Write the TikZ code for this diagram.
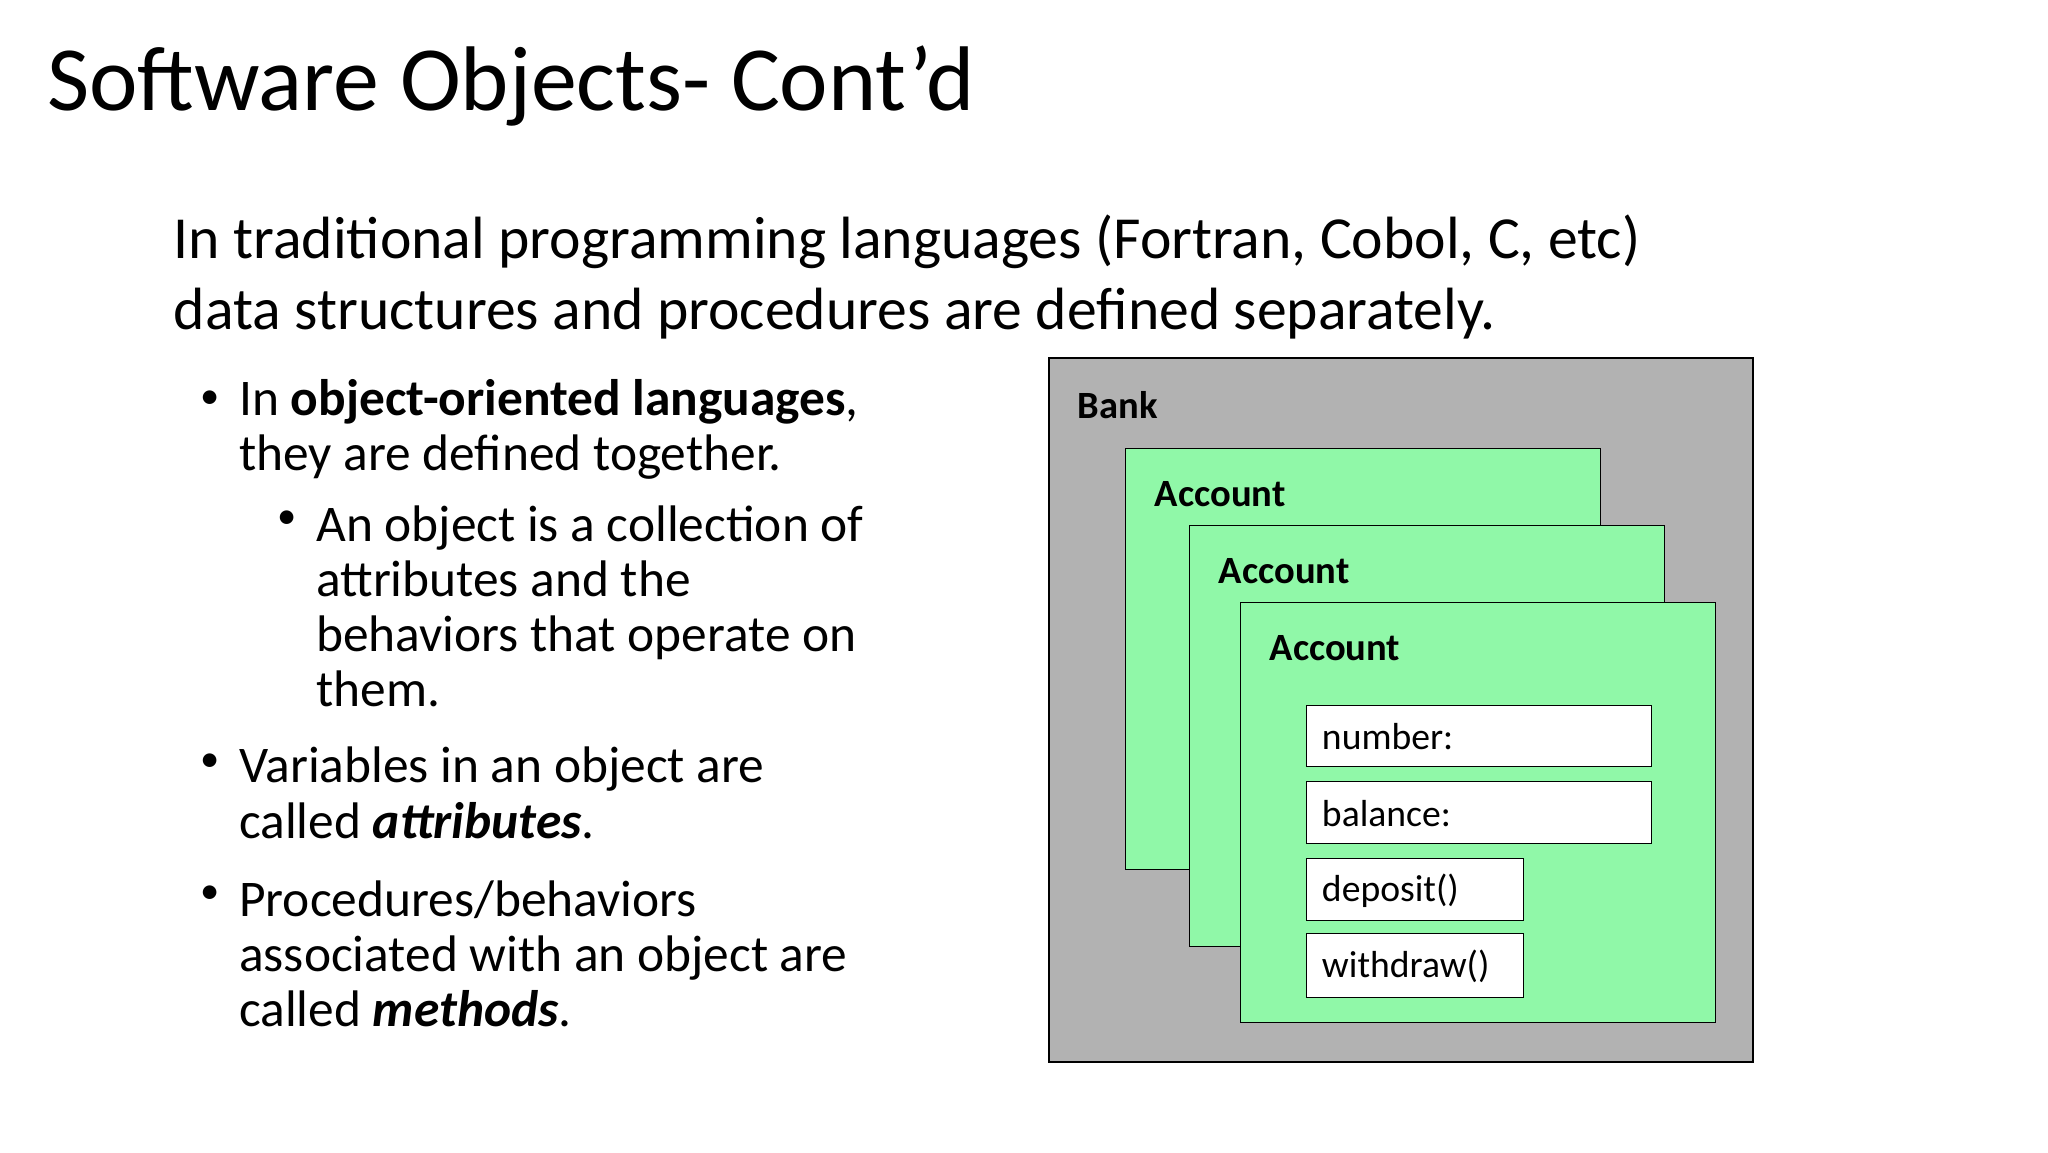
\documentclass[tikz,border=0pt]{standalone}
\usepackage{fontspec}
\setmainfont{Carlito}
\begin{document}
\begin{tikzpicture}[x=0.05cm,y=-0.05cm,
  fld/.style={draw=black,line width=1pt,fill=white},
  acc/.style={draw=black,line width=1pt,fill=accg},
  lbl/.style={anchor=west,inner sep=0pt,font=\fontsize{42}{50}\selectfont\bfseries},
  flbl/.style={anchor=west,inner sep=0pt,font=\fontsize{41}{50}\selectfont},
  txt/.style={anchor=west,inner sep=0pt,align=left}]
\definecolor{accg}{HTML}{90F8A8}
\useasboundingbox (0,0) rectangle (1568,882);
\node[txt,font=\fontsize{100}{110}\selectfont] (title) at (36,66) {Software Objects- Cont’d};
\node[txt,font=\fontsize{65}{78}\selectfont] (intro) at (133,212) {In traditional programming languages (Fortran, Cobol, C, etc)\\data structures and procedures are defined separately.};
\begin{scope}[font=\fontsize{56}{60}\selectfont]
\node[txt,font=\fontsize{42}{50}\selectfont] (b1) at (153,306) {•};
\node[txt] (t1) at (183,329) {In \textbf{object-oriented languages},\\they are defined together.};
\node[txt,font=\fontsize{42}{50}\selectfont] (b2) at (212,398) {•};
\node[txt] (t2) at (242,464) {An object is a collection of\\attributes and the\\behaviors that operate on\\them.};
\node[txt,font=\fontsize{42}{50}\selectfont] (b3) at (153,584) {•};
\node[txt] (t3) at (183,607) {Variables in an object are\\called \textbf{\itshape attributes}.};
\node[txt,font=\fontsize{42}{50}\selectfont] (b4) at (153,685) {•};
\node[txt] (t4) at (183,730) {Procedures/behaviors\\associated with an object are\\called \textbf{\itshape methods}.};
\end{scope}
\draw[line width=2.2pt,fill=black!30] (803,274) rectangle (1342,813);
\node[lbl] (bank) at (825,310) {Bank};
\draw[acc] (862,343) rectangle (1225,666);
\node[lbl] (a1) at (884,378) {Account};
\draw[acc] (911,402) rectangle (1274,725);
\node[lbl] (a2) at (933,437) {Account};
\draw[acc] (950,461) rectangle (1313,783);
\node[lbl] (a3) at (972,496) {Account};
\draw[fld] (1000,540) rectangle (1264,587);
\node[flbl] (f1) at (1012,564) {number:};
\draw[fld] (1000,598) rectangle (1264,646);
\node[flbl] (f2) at (1012,623) {balance:};
\draw[fld] (1000,657) rectangle (1166,705);
\node[flbl] (f3) at (1012,682) {deposit()};
\draw[fld] (1000,715) rectangle (1166,764);
\node[flbl] (f4) at (1012,740) {withdraw()};
\end{tikzpicture}
\end{document}
